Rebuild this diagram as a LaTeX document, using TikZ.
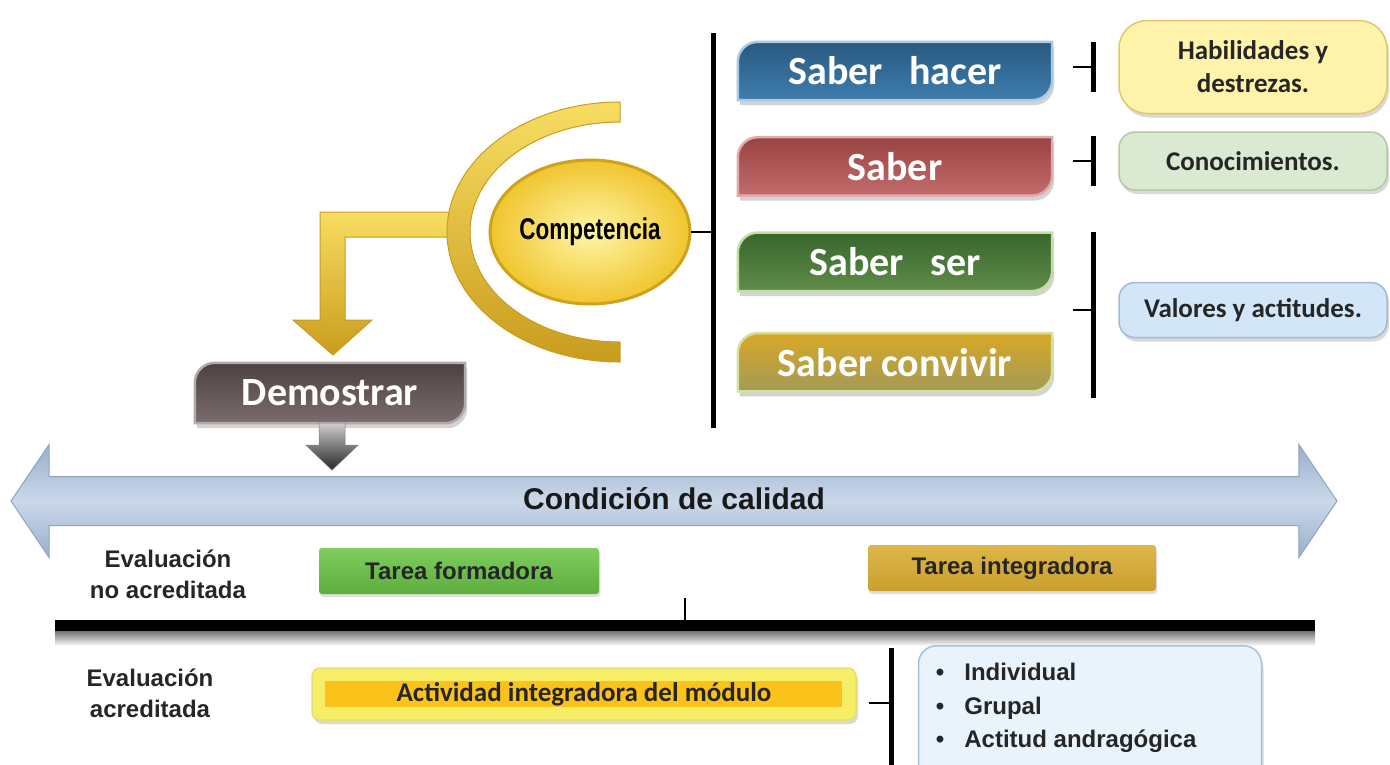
\documentclass[tikz,border=0pt]{standalone}
\usepackage{fontspec}
\setmainfont{Carlito}
\newfontfamily\arialfont{Liberation Sans}
\newfontfamily\narrowfont[FakeStretch=0.75]{Liberation Sans}
\usetikzlibrary{positioning, calc, shapes.geometric, shapes.arrows, shadows, backgrounds}

\definecolor{goldlight}{HTML}{F7DD62}
\definecolor{golddark}{HTML}{C99C1E}
\definecolor{complight}{HTML}{FFF6A8}
\definecolor{compdark}{HTML}{F0C52E}
\definecolor{compline}{HTML}{CFA21C}
\definecolor{hacertop}{HTML}{28597F}
\definecolor{hacerbot}{HTML}{3F7DAE}
\definecolor{hacerline}{HTML}{A8CAE4}
\definecolor{sabertop}{HTML}{984242}
\definecolor{saberbot}{HTML}{C26C6C}
\definecolor{saberline}{HTML}{E2ABAB}
\definecolor{sertop}{HTML}{38662C}
\definecolor{serbot}{HTML}{5F8C49}
\definecolor{serline}{HTML}{C4DEA2}
\definecolor{convtop}{HTML}{D9A826}
\definecolor{convbot}{HTML}{A39A58}
\definecolor{convline}{HTML}{D2E2A2}
\definecolor{demotop}{HTML}{4C4141}
\definecolor{demobot}{HTML}{7B6D6D}
\definecolor{demoline}{HTML}{B3AAAA}
\definecolor{habfill}{HTML}{FFF2AA}
\definecolor{habline}{HTML}{E3C766}
\definecolor{conofill}{HTML}{DAE9D2}
\definecolor{conoline}{HTML}{B2C9A3}
\definecolor{valfill}{HTML}{D2E6F8}
\definecolor{valline}{HTML}{A0BAD9}
\definecolor{bandlight}{HTML}{CBD8EA}
\definecolor{banddark}{HTML}{99AFCC}
\definecolor{bandline}{HTML}{8EA3C2}
\definecolor{formtop}{HTML}{80CC5F}
\definecolor{formbot}{HTML}{5DAD3E}
\definecolor{integtop}{HTML}{DEB649}
\definecolor{integbot}{HTML}{C99F2E}
\definecolor{actyellow}{HTML}{F5EE66}
\definecolor{actline}{HTML}{E6DE70}
\definecolor{actorange}{HTML}{FCC21C}
\definecolor{listfill}{HTML}{E8F3FB}
\definecolor{listline}{HTML}{A9C1D8}

\newcommand{\tabshape}[4]{%
  \path[tabedge, top color=#2, bottom color=#3, draw=#4]
    (#1.south west) [rounded corners=20pt] -- (#1.north west)
    [sharp corners] -- (#1.north east)
    [rounded corners=20pt] -- (#1.south east)
    [sharp corners] -- cycle;}

\tikzset{
  goldshape/.style={top color=goldlight, bottom color=golddark, draw=golddark, line width=1pt},
  comp/.style={ellipse, minimum width=186pt, minimum height=144pt, inner sep=0pt,
    inner color=complight, outer color=compdark, draw=compline, line width=3pt,
    font=\narrowfont\bfseries\fontsize{30}{32}\selectfont},
  tab/.style={minimum width=314pt, minimum height=58pt, inner sep=0pt,
    text=white, font=\fontsize{40}{44}\selectfont\bfseries},
  tabedge/.style={line width=2.5pt,
    drop shadow={shadow xshift=2pt, shadow yshift=-5pt, opacity=.35}},
  note/.style={rectangle, rounded corners=16pt, minimum width=268pt, align=center,
    line width=1.5pt, text=black!85, font=\fontsize{27}{33}\selectfont\bfseries,
    drop shadow={shadow xshift=2pt, shadow yshift=-4pt, opacity=.3}},
  brk/.style={line width=5pt},
  tick/.style={line width=2.5pt},
  qual/.style={double arrow, minimum height=1326pt, double arrow head extend=32pt,
    double arrow tip angle=112, inner xsep=0pt, inner ysep=10pt,
    text height=22pt, text depth=6pt, top color=banddark, bottom color=banddark,
    middle color=bandlight, draw=bandline, line width=1pt, text=black!90,
    font=\arialfont\bfseries\fontsize{30}{34}\selectfont},
  greyarrow/.style={top color=black!20, bottom color=black!85, draw=black!50, line width=.5pt},
  lbl/.style={align=center, inner sep=0pt, text=black!85,
    font=\arialfont\bfseries\fontsize{24}{31}\selectfont},
  task/.style={rectangle, rounded corners=3pt, minimum height=46pt, inner sep=0pt, text=black!85,
    font=\arialfont\bfseries\fontsize{24}{28}\selectfont,
    drop shadow={shadow xshift=1pt, shadow yshift=-3pt, opacity=.25}},
  act/.style={rectangle, rounded corners=8pt, minimum width=544pt, minimum height=52pt,
    fill=actyellow, draw=actline, line width=1.5pt, text=black!85,
    font=\fontsize{27}{30}\selectfont\bfseries,
    drop shadow={shadow xshift=2pt, shadow yshift=-4pt, opacity=.3},
    path picture={\fill[actorange, sharp corners]
      ($(path picture bounding box.south west)+(13,-13)$) rectangle
      ($(path picture bounding box.north east)+(-14,13)$);}},
  listbox/.style={rectangle, rounded corners=18pt, minimum width=343pt, minimum height=160pt,
    fill=listfill, draw=listline, line width=1.5pt,
    drop shadow={shadow xshift=2pt, shadow yshift=-4pt, opacity=.3}},
  listtext/.style={align=left, inner sep=0pt, text=black!85,
    font=\arialfont\bfseries\fontsize{24}{33.5}\selectfont}
}

\begin{document}
\begin{tikzpicture}[x=1pt, y=-1pt]
\useasboundingbox (0,0) rectangle (1390,764);

% golden arc and bent arrow
\coordinate (arc) at (620,232);
\path[goldshape] (452,212) -- (320,212) -- (320,320) -- (293,320) -- (333,355)
  -- (372,320) -- (345,320) -- (345,237) -- (452,237) -- cycle;
\path[goldshape] ($(arc)+(0,-130)$) arc[start angle=270, end angle=90, x radius=173, y radius=130]
  -- ++(0,-20) arc[start angle=90, end angle=270, x radius=150, y radius=110] -- cycle;
\node[comp] (comp) at (590,232) {Competencia};

% saber boxes
\node[tab] (hacer) at (895,71) {Saber\hspace{26pt}hacer};
\node[tab, below=37pt of hacer] (saber) {Saber};
\node[tab, below=37pt of saber] (ser) {Saber\hspace{26pt}ser};
\node[tab, below=42pt of ser] (convivir) {Saber convivir};
\node[tab, minimum width=270pt, minimum height=60pt] (demostrar) at (330,393) {Demostrar};
\begin{scope}[on background layer]
  \tabshape{hacer}{hacertop}{hacerbot}{hacerline}
  \tabshape{saber}{sabertop}{saberbot}{saberline}
  \tabshape{ser}{sertop}{serbot}{serline}
  \tabshape{convivir}{convtop}{convbot}{convline}
  \tabshape{demostrar}{demotop}{demobot}{demoline}
\end{scope}

% notes
\node[note, fill=habfill, draw=habline, minimum height=93pt, rounded corners=28pt] (hab) at (1253,67) {Habilidades y\\destrezas.};
\node[note, fill=conofill, draw=conoline, minimum height=58pt] (cono) at (1253,161) {Conocimientos.};
\node[note, fill=valfill, draw=valline, minimum height=55pt] (val) at (1253,310) {Valores y actitudes.};

% brackets
\coordinate (bigbrk) at (713,232);
\draw[brk] ($(bigbrk)+(0,-199)$) -- ($(bigbrk)+(0,196)$);
\draw[line width=1.5pt] (comp.east) -- (bigbrk);
\foreach \n/\up/\down in {hab/25/25, cono/25/25, val/78/88} {
  \coordinate (b-\n) at ($(\n.west)+(-25,0)$);
  \draw[brk] ($(b-\n)+(0,-\up)$) -- ($(b-\n)+(0,\down)$);
  \draw[tick] (b-\n) -- ++(-20,0);
}

% quality band
\node[qual] (calidad) at (674,501) {Condición de calidad};
\coordinate (g) at ($(demostrar.south)+(2,0)$);
\path[greyarrow, shift={(g)}] (-13,0) -- (-13,22) -- (-26,22) -- (0,47)
  -- (26,22) -- (13,22) -- (13,0) -- cycle;

% non accredited evaluation
\node[lbl] (noacr) at (168,574) {Evaluación\\no acreditada};
\node[task, top color=formtop, bottom color=formbot, minimum width=280pt] (formadora) at (459,571) {Tarea formadora};
\node[task, top color=integtop, bottom color=integbot, minimum width=288pt] (integradora) at (1012,568) {Tarea integradora};

% dividing bar
\fill[black] (55,620) rectangle (1315,631);
\shade[top color=black!55, bottom color=white] (55,631) rectangle (1315,646);
\coordinate (split) at (685,620);
\draw[line width=2pt] (split) -- ++(0,-22);

% accredited evaluation
\node[lbl] (acr) at (150,693) {Evaluación\\acreditada};
\node[act] (actividad) at (584,694) {Actividad integradora del módulo};
\coordinate (b-act) at (891,703);
\draw[brk] ($(b-act)+(0,-55)$) -- ($(b-act)+(0,75)$);
\draw[tick] (b-act) -- ++(-22,0);
\node[listbox, anchor=north] (modosbox) at (1090,645) {};
\node[listtext, anchor=north west] (modos) at ($(modosbox.north west)+(18,18)$)
  {\textbullet\hspace{20pt}Individual\\\textbullet\hspace{20pt}Grupal\\\textbullet\hspace{20pt}Actitud andragógica};
\end{tikzpicture}
\end{document}
